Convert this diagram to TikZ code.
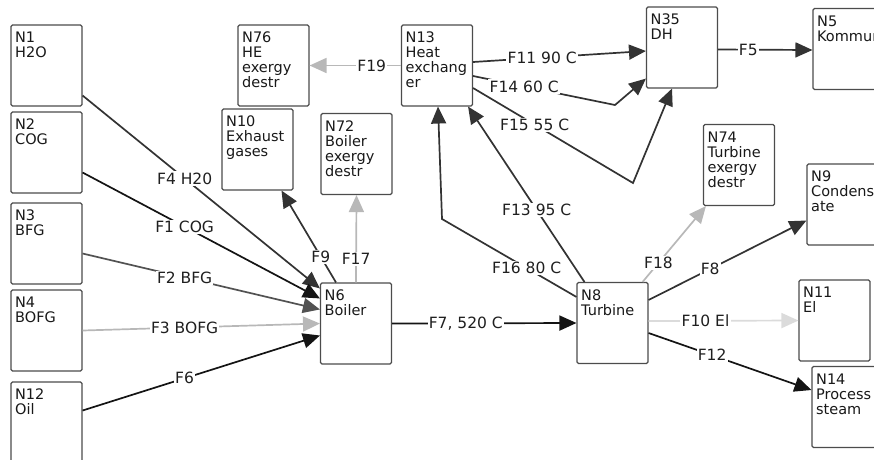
\documentclass[tikz,border=0pt]{standalone}
\usepackage{fontspec}
\setmainfont{DejaVu Sans}
\usetikzlibrary{arrows.meta,calc}

\begin{document}
\begin{tikzpicture}[x=1pt, y=-1pt,
  box/.style={draw=black!70, line width=1.1pt, rounded corners=1.5pt, fill=white, minimum width=71pt, minimum height=81pt, inner sep=0pt},
  boxtext/.style={anchor=north west, align=left, draw=none, fill=none, inner xsep=4.5pt, inner ysep=7.5pt, font=\fontsize{14.5}{15}\selectfont, text=black!90},
  flow/.style={-{Triangle[length=17pt, width=15pt]}, line width=1.7pt},
  flab/.style={fill=white, inner sep=1.2pt, font=\fontsize{15.5}{16}\selectfont, text=black!88},
  flowblack/.style={flow, black!92},
  flowdark/.style={flow, black!80},
  flowgray/.style={flow, black!68},
  flowlight/.style={flow, black!28},
  flowpale/.style={flow, black!14},
]
\useasboundingbox (0,0) rectangle (874,459);
\clip (0,0) rectangle (874,459);

% === Inputs (left column) ===
\node[box, label={[boxtext]north west:N1\\H2O}] (n1) at (46.5,65.5) {};
\node[box, label={[boxtext]north west:N2\\COG}] (n2) at (46.5,152.5) {};
\node[box, label={[boxtext]north west:N3\\BFG}] (n3) at (46.5,243.5) {};
\node[box, label={[boxtext]north west:N4\\BOFG}] (n4) at (46.5,330.5) {};
\node[box, label={[boxtext]north west:N12\\Oil}] (n12) at (46.5,422.5) {};

% === Boiler and its outputs ===
\node[box, label={[boxtext]north west:N6\\Boiler}] (n6) at (356,323.5) {};
\node[box, label={[boxtext]north west:N10\\Exhaust\\gases}] (n10) at (257.5,149.5) {};
\node[box, label={[boxtext]north west:N72\\Boiler\\exergy\\destr}] (n72) at (356.5,154) {};

% === Heat exchanger, DH ===
\node[box, label={[boxtext]north west:N76\\HE\\exergy\\destr}] (n76) at (273.5,65.5) {};
\node[box, label={[boxtext]north west:N13\\Heat\\exchang\\er}] (n13) at (437,65.5) {};
\node[box, label={[boxtext]north west:N35\\DH}] (n35) at (682,47.5) {};
\node[box, label={[boxtext]north west:N5\\Kommun}] (n5) at (848.5,49) {};

% === Turbine and its outputs ===
\node[box, label={[boxtext]north west:N8\\Turbine}] (n8) at (612.5,323) {};
\node[box, label={[boxtext]north west:N74\\Turbine\\exergy\\destr}] (n74) at (739,165) {};
\node[box, label={[boxtext]north west:N9\\Condens\\ate}] (n9) at (842.5,204.5) {};
\node[box, label={[boxtext]north west:N11\\El}] (n11) at (834.5,320.5) {};
\node[box, label={[boxtext]north west:N14\\Process\\steam}] (n14) at (847.5,407) {};

% bends
\coordinate (k16) at (442,219);
\coordinate (k14) at (615,105);
\coordinate (k15) at (633,183);

% === Flows into boiler ===
\draw[flowdark] ($(n1.east)+(0,30)$) -- node[flab, pos=0.43] {F4 H20} ($(n6.north west)+(0,6)$);
\draw[flowblack] ($(n2.east)+(0,20)$) -- node[flab, pos=0.43] {F1 COG} ($(n6.north west)+(0,16)$);
\draw[flowgray] ($(n3.east)+(0,10)$) -- node[flab, pos=0.43] {F2 BFG} ($(n6.north west)+(0,27)$);
\draw[flowlight] (n4.east) -- node[flab, pos=0.43] {F3 BOFG} (n6.west);
\draw[flowblack] ($(n12.east)+(0,-12)$) -- node[flab, pos=0.43] {F6} ($(n6.west)+(0,12)$);

% === Boiler outflows ===
\draw[flowdark] ($(n6.north)+(-20,0)$) -- node[flab, pos=0.28] {F9} ($(n10.south)+(24,0)$);
\draw[flowlight] (n6.north) -- node[flab, pos=0.27] {F17} (n72.south);
\draw[flowblack] (n6.east) -- node[flab, pos=0.4] {F7, 520 C} (n8.west);

% === Turbine outflows ===
\draw[flowdark] ($(n8.north west)+(0,15)$) -- node[flab, pos=0.37] {F16 80 C} (k16) -- ($(n13.south)+(1,0)$);
\draw[flowdark] ($(n8.north west)+(8,0)$) -- node[flab, pos=0.41] {F13 95 C} ($(n13.south east)+(-5,0)$);
\draw[flowlight] ($(n8.north east)+(-6,0)$) -- node[flab, pos=0.25] {F18} ($(n74.south west)+(3,0)$);
\draw[flowdark] ($(n8.east)+(0,-23)$) -- node[flab, pos=0.39] {F8} ($(n9.west)+(0,16)$);
\draw[flowpale] ($(n8.east)+(0,-2)$) -- node[flab, pos=0.38] {F10 El} (n11.west);
\draw[flowblack] ($(n8.east)+(0,10)$) -- node[flab, pos=0.39] {F12} ($(n14.west)+(0,-17)$);

% === Heat exchanger flows ===
\draw[flowlight] (n13.west) -- node[flab, pos=0.32] {F19} (n76.east);
\draw[flowdark] ($(n13.east)+(0,-3.5)$) -- node[flab, pos=0.4] {F11 90 C} ($(n35.west)+(0,3.5)$);
\draw[flowdark] ($(n13.east)+(0,10.5)$) -- node[flab, pos=0.36] {F14 60 C} (k14) -- ($(n35.south west)+(0,-10)$);
\draw[flowdark] ($(n13.east)+(0,22.5)$) -- node[flab, pos=0.385] {F15 55 C} (k15) -- ($(n35.south)+(-10,0)$);
\draw[flowdark] ($(n35.east)+(0,2)$) -- node[flab, pos=0.32] {F5} ($(n5.west)+(0,1)$);

\end{tikzpicture}
\end{document}
